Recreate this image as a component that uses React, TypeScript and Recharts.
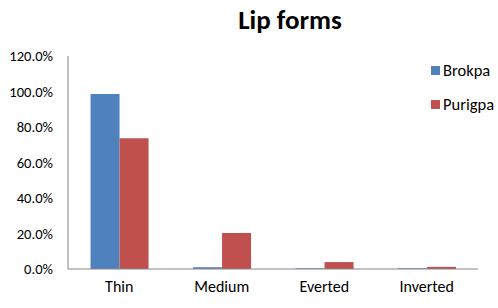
import React from 'react';
import { BarChart, Bar, XAxis, YAxis } from 'recharts';

const categories = ['Thin', 'Medium', 'Everted', 'Inverted'];
const brokpa = [98.6, 1.0, 0.4, 0.4];
const purigpa = [73.7, 20.3, 3.9, 1.2];
const yTicks = [0, 20, 40, 60, 80, 100, 120];
const seriesNames = ['Brokpa', 'Purigpa'];
const seriesColors = ['#4F81BD', '#C0504D'];

const chartData = categories.map((name, i) => ({
  name,
  Brokpa: brokpa[i],
  Purigpa: purigpa[i],
}));

const font = 'Carlito, "Open Sans", "Liberation Sans", sans-serif';

const App: React.FC = () => {
  return (
    <div style={{ position: 'absolute', left: 0, top: 0, width: 498, height: 308, background: '#fff', fontFamily: font }}>
      <div style={{ position: 'absolute', left: 190, width: 200, top: 3, textAlign: 'center', fontSize: 27, fontWeight: 'bold', color: '#000' }}>
        Lip forms
      </div>
      <BarChart
        width={498}
        height={308}
        data={chartData}
        margin={{ top: 56, right: 20, bottom: 0, left: 0 }}
        barCategoryGap="22%"
        barGap={0}
      >
        <XAxis
          dataKey="name"
          height={39}
          tickLine={false}
          tickSize={0}
          tickMargin={12}
          axisLine={{ stroke: '#868686' }}
          tick={{ fill: '#000', fontSize: 16, fontFamily: font }}
        />
        <YAxis
          width={68}
          domain={[0, 120]}
          ticks={yTicks}
          tickFormatter={(v: number) => v.toFixed(1) + '%'}
          tickLine={false}
          tickSize={0}
          tickMargin={15}
          axisLine={{ stroke: '#868686' }}
          tick={{ fill: '#000', fontSize: 14.6, fontFamily: font }}
        />
        <Bar dataKey="Brokpa" fill={seriesColors[0]} isAnimationActive={false} />
        <Bar dataKey="Purigpa" fill={seriesColors[1]} isAnimationActive={false} />
      </BarChart>
      {seriesNames.map((s, i) => (
        <div key={s} style={{ position: 'absolute', left: 431, top: 60 + i * 34, display: 'flex', alignItems: 'center', fontSize: 16.5, color: '#000' }}>
          <span style={{ display: 'inline-block', width: 9, height: 9, background: seriesColors[i], marginRight: 3 }} />
          {s}
        </div>
      ))}
    </div>
  );
};

export default App;
